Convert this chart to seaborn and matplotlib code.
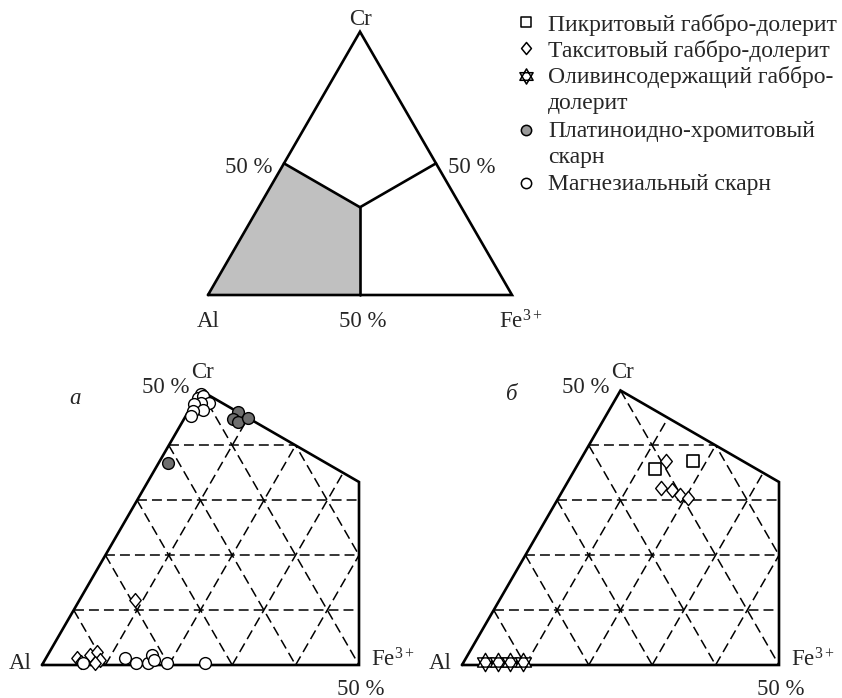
import numpy as np
import pandas as pd
import matplotlib
matplotlib.use("Agg")
import matplotlib.pyplot as plt
from matplotlib.path import Path
from matplotlib.patches import Polygon
import seaborn as sns

sns.set_theme(style="white")
plt.rcParams["font.family"] = ["Liberation Serif", "DejaVu Serif"]
plt.rcParams["mathtext.fontset"] = "custom"
plt.rcParams["mathtext.rm"] = "Liberation Serif"
plt.rcParams["mathtext.it"] = "Liberation Serif:italic"

# ---- compositions, % (Al, Cr, Fe3+) ----
# panel а
mag_skarn_al = [50.3, 51.0, 50.1, 49.8, 51.1, 52.2, 51.4, 53.1, 53.9,
                93.3, 86.2, 84.9, 83.1, 81.8, 81.9, 80.1, 74.1]
mag_skarn_cr = [49.4, 48.7, 49.0, 47.7, 47.7, 47.6, 46.5, 46.3, 45.3,
                0.4, 1.3, 0.4, 0.4, 1.8, 0.9, 0.4, 0.4]
mag_skarn_fe = [0.3, 0.3, 0.9, 2.5, 1.2, 0.2, 2.1, 0.6, 0.8,
                6.3, 12.5, 14.7, 16.5, 16.4, 17.2, 19.5, 25.5]

pt_skarn_al = [46.0, 47.5, 46.9, 45.0, 61.7]
pt_skarn_cr = [46.1, 44.8, 44.3, 45.0, 36.8]
pt_skarn_fe = [7.9, 7.7, 8.8, 10.0, 1.5]

tax_a_al = [79.4, 93.9, 91.5, 90.2, 90.4, 91.4, 93.6]
tax_a_cr = [11.8, 1.3, 1.8, 2.4, 0.9, 0.4, 0.5]
tax_a_fe = [8.8, 4.8, 6.7, 7.4, 8.7, 8.2, 5.9]

# panel б
tax_b_al = [49.2, 52.5, 50.9, 50.1, 49.2]
tax_b_cr = [37.2, 32.2, 31.9, 31.0, 30.4]
tax_b_fe = [13.6, 15.3, 17.2, 18.9, 20.4]

pikr_al = [51.7, 44.9]
pikr_cr = [35.7, 37.2]
pikr_fe = [12.6, 17.9]

oliv_al = [96.1, 94.1, 92.2, 90.2]
oliv_cr = [0.5, 0.5, 0.5, 0.5]
oliv_fe = [3.4, 5.4, 7.3, 9.3]

legend_labels = [
    ["Пикритовый габбро-долерит"],
    ["Такситовый габбро-долерит"],
    ["Оливинсодержащий габбро-", "долерит"],
    ["Платиноидно-хромитовый", "скарн"],
    ["Магнезиальный скарн"],
]

# Al-dominant field: Al vertex, Al-Cr midpoint, centroid, Al-Fe midpoint
AL_FIELD = [(100, 0, 0), (50, 50, 0), (100 / 3, 100 / 3, 100 / 3), (50, 0, 50)]

W, H = 842, 698
SQ3 = np.sqrt(3) / 2


def tern_xy(al, cr, fe):
    al, cr, fe = (np.asarray(v, dtype=float) for v in (al, cr, fe))
    s = al + cr + fe
    cr, fe = cr / s, fe / s
    return fe + cr / 2, cr * SQ3


def add_tern_axes(fig, al_px, scale, xlim, ylim):
    left = (al_px[0] + xlim[0] * scale) / W
    bottom = (H - al_px[1] + ylim[0] * scale) / H
    width = (xlim[1] - xlim[0]) * scale / W
    height = (ylim[1] - ylim[0]) * scale / H
    ax = fig.add_axes([left, bottom, width, height])
    ax.set_xlim(*xlim)
    ax.set_ylim(*ylim)
    ax.axis("off")
    ax.patch.set_visible(False)
    return ax


def hexagram():
    up = [(np.cos(np.radians(a)), np.sin(np.radians(a))) for a in (90, 210, 330)]
    dn = [(np.cos(np.radians(a)), np.sin(np.radians(a))) for a in (270, 30, 150)]
    verts = up + [up[0]] + dn + [dn[0]]
    codes = [Path.MOVETO, Path.LINETO, Path.LINETO, Path.CLOSEPOLY] * 2
    return Path(verts, codes)


HEX = hexagram()
DIAMOND = Path([(0, 1), (0.82, 0), (0, -1), (-0.82, 0), (0, 1)],
               [Path.MOVETO, Path.LINETO, Path.LINETO, Path.LINETO,
                Path.CLOSEPOLY])
FS = 16.5
LW = 1.9

fig = plt.figure(figsize=(W / 100, H / 100), dpi=100)

# ---------------- top scheme ----------------
ax0 = add_tern_axes(fig, (208, 295), 304, (-0.2, 1.2), (-0.15, 0.95))
fx, fy = tern_xy(*zip(*AL_FIELD))
ax0.add_patch(Polygon(np.column_stack([fx, fy]), closed=True,
                      facecolor="#c0c0c0", edgecolor="none", zorder=1))
tx, ty = tern_xy([100, 0, 0, 100], [0, 0, 100, 0], [0, 100, 0, 0])
ax0.plot(tx, ty, color="black", lw=LW, solid_joinstyle="miter", zorder=2)
cx, cy = tern_xy(1, 1, 1)
for comp in [(50, 50, 0), (0, 50, 50), (50, 0, 50)]:
    mx, my = tern_xy(*comp)
    ax0.plot([mx, cx], [my, cy], color="black", lw=LW, zorder=2)
ax0.text(0.5, 0.905, "Cr", ha="center", va="center", fontsize=FS)
ax0.text(0.212, 0.42, "50 %", ha="right", va="center", fontsize=FS)
ax0.text(0.788, 0.42, "50 %", ha="left", va="center", fontsize=FS)
ax0.text(0.0, -0.088, "Al", ha="center", va="center", fontsize=FS)
ax0.text(0.51, -0.088, "50 %", ha="center", va="center", fontsize=FS)
ax0.text(1.03, -0.088, "Fe$^{3+}$", ha="center", va="center", fontsize=FS)


# ---------------- detail panels ----------------
def detail_panel(al_px, letter, letter_xy):
    ax = add_tern_axes(fig, al_px, 634, (-0.07, 0.62), (-0.06, 0.48))
    px, py = tern_xy(*zip(*AL_FIELD))
    clip = Polygon(np.column_stack([px, py]), closed=True,
                   transform=ax.transData)
    for v in np.arange(1, 10) / 10:
        for a, b in [((1 - v, v, 0), (0, v, 1 - v)),
                     ((1 - v, 0, v), (0, 1 - v, v)),
                     ((v, 1 - v, 0), (v, 0, 1 - v))]:
            lx, ly = tern_xy(*zip(a, b))
            ln, = ax.plot(lx, ly, color="black", lw=1.1,
                          linestyle=(0, (6.5, 3.3)), zorder=1)
            ln.set_clip_path(clip)
    ax.plot(np.append(px, px[0]), np.append(py, py[0]), color="black",
            lw=LW, solid_joinstyle="miter", zorder=2)
    ax.text(0.253, 0.462, "Cr", ha="center", va="center", fontsize=FS)
    ax.text(0.232, 0.437, "50 %", ha="right", va="center", fontsize=FS)
    ax.text(-0.035, 0.003, "Al", ha="center", va="center", fontsize=FS)
    ax.text(0.519, 0.008, "Fe$^{3+}$", ha="left", va="center", fontsize=FS)
    ax.text(0.502, -0.038, "50 %", ha="center", va="center", fontsize=FS)
    ax.text(*letter_xy, letter, ha="center", va="center", fontsize=FS,
            style="italic")
    return ax


def scatter(ax, al, cr, fe, marker, s, face, lw=1.0):
    x, y = tern_xy(al, cr, fe)
    df = pd.DataFrame({"x": x, "y": y})
    sns.scatterplot(data=df, x="x", y="y", ax=ax, marker=marker, s=s,
                    color=face, edgecolor="black", linewidth=lw,
                    zorder=3, legend=False)
    ax.set_xlabel("")
    ax.set_ylabel("")


axa = detail_panel((42, 665), "а", (0.052, 0.421))
scatter(axa, tax_a_al, tax_a_cr, tax_a_fe, DIAMOND, 100, "white")
scatter(axa, mag_skarn_al, mag_skarn_cr, mag_skarn_fe, "o", 72, "white")
scatter(axa, pt_skarn_al, pt_skarn_cr, pt_skarn_fe, "o", 72, "#6e6e6e")

axb = detail_panel((462, 665), "б", (0.079, 0.426))
scatter(axb, tax_b_al, tax_b_cr, tax_b_fe, DIAMOND, 105, "white")
scatter(axb, pikr_al, pikr_cr, pikr_fe, "s", 64, "white", lw=1.2)
scatter(axb, oliv_al, oliv_cr, oliv_fe, HEX, 175, "white")

# ---------------- legend ----------------
lax = fig.add_axes([0, 0, 1, 1])
lax.set_xlim(0, W)
lax.set_ylim(H, 0)
lax.axis("off")
lax.patch.set_visible(False)
leg_markers = [("s", 60, "white"), (DIAMOND, 75, "white"), (HEX, 120, "white"),
               ("o", 55, "#9a9a9a"), ("o", 55, "white")]
leg_marker_y = [22, 48, 76, 130, 183]
leg_line_y = [[31], [57], [83, 109], [137, 163], [190]]
for (m, s, fc), my, ys, lines in zip(leg_markers, leg_marker_y, leg_line_y,
                                     legend_labels):
    lax.scatter([526], [my], marker=m, s=s, facecolor=fc,
                edgecolor="black", linewidth=1.1, zorder=3)
    for yb, line in zip(ys, lines):
        lax.text(548, yb, line, ha="left", va="baseline", fontsize=17)

fig.savefig("out.png", dpi=100)
